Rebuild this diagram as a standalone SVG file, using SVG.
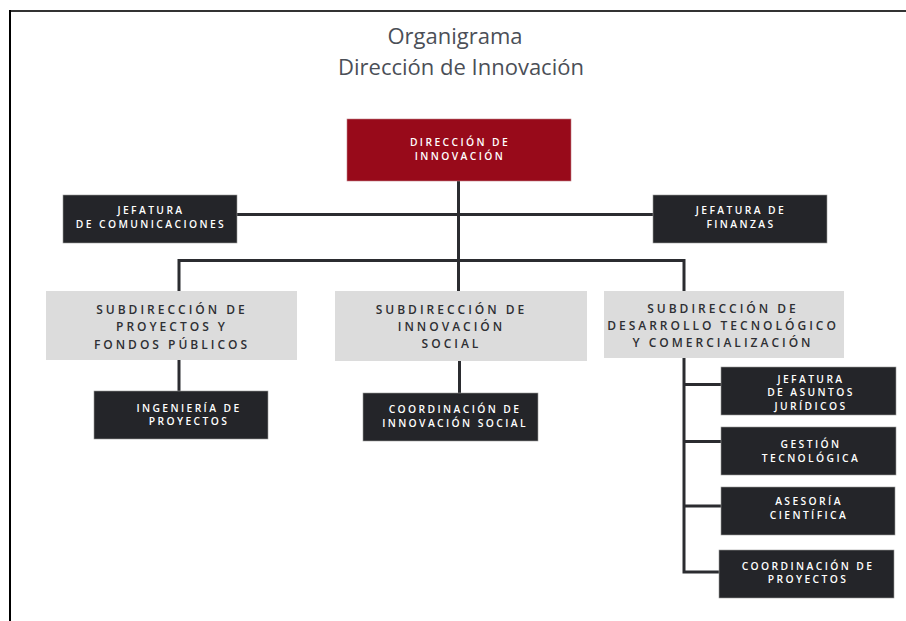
<svg xmlns="http://www.w3.org/2000/svg" width="906" height="621" viewBox="0 0 906 621">
<style>
.title{font-family:"Open Sans","Liberation Sans",sans-serif;font-size:22px;fill:#4b4f57;text-anchor:middle}
.dk{fill:#242529;stroke:#9a9a9a;stroke-width:0.6}
.rd{fill:#980a1a;stroke:#c08088;stroke-width:0.6}
.lt{fill:#dcdcdc}
.tw{font-family:"Open Sans","Liberation Sans",sans-serif;font-size:10.3px;font-weight:600;fill:#ffffff;text-anchor:middle;letter-spacing:2.4px}
.tg{font-family:"Open Sans","Liberation Sans",sans-serif;font-size:12px;font-weight:600;fill:#2e2f33;text-anchor:middle;letter-spacing:3px}
.ln{stroke:#2b2c30;stroke-width:3;fill:none}
</style>
<rect x="0" y="0" width="906" height="621" fill="#ffffff"/>
<g id="frame">
<line x1="10" y1="11" x2="906" y2="11" stroke="#333" stroke-width="2.2"/>
<line x1="10" y1="10" x2="10" y2="621" stroke="#000" stroke-width="2"/>
</g>
<g id="title">
<text class="title" x="455" y="44">Organigrama</text>
<text class="title" x="461" y="75">Dirección de Innovación</text>
</g>
<g id="connectors">
<line class="ln" x1="458.5" y1="181" x2="458.5" y2="291"/>
<line class="ln" x1="237" y1="214.5" x2="653" y2="214.5"/>
<polyline class="ln" points="179,291 179,260.5 684,260.5 684,291"/>
<line class="ln" x1="179" y1="360" x2="179" y2="391"/>
<line class="ln" x1="459.5" y1="361" x2="459.5" y2="393"/>
<polyline class="ln" points="684,358 684,572 720,572"/>
<line class="ln" x1="684" y1="384.5" x2="721" y2="384.5"/>
<line class="ln" x1="684" y1="441.5" x2="721" y2="441.5"/>
<line class="ln" x1="684" y1="506" x2="721" y2="506"/>
</g>
<g id="direccion">
<rect class="rd" x="347" y="119" width="224" height="62"/>
<text class="tw" x="460" y="146">DIRECCIÓN DE</text>
<text class="tw" x="460" y="159.5">INNOVACIÓN</text>
</g>
<g id="jef-comunicaciones">
<rect class="dk" x="63" y="195" width="174" height="48"/>
<text class="tw" x="151" y="213.5">JEFATURA</text>
<text class="tw" x="151" y="227.5">DE COMUNICACIONES</text>
</g>
<g id="jef-finanzas">
<rect class="dk" x="653" y="195" width="174" height="48"/>
<text class="tw" x="741" y="214">JEFATURA DE</text>
<text class="tw" x="741" y="228">FINANZAS</text>
</g>
<g id="sub-proyectos">
<rect class="lt" x="46" y="291" width="251" height="69"/>
<text class="tg" x="172" y="313.5">SUBDIRECCIÓN DE</text>
<text class="tg" x="172" y="331">PROYECTOS Y</text>
<text class="tg" x="172" y="348.5">FONDOS PÚBLICOS</text>
</g>
<g id="sub-innovacion-social">
<rect class="lt" x="335" y="291" width="252" height="70"/>
<text class="tg" x="451.5" y="313.5">SUBDIRECCIÓN DE</text>
<text class="tg" x="451.5" y="331">INNOVACIÓN</text>
<text class="tg" x="451.5" y="348">SOCIAL</text>
</g>
<g id="sub-desarrollo">
<rect class="lt" x="604" y="291" width="240" height="67"/>
<text class="tg" x="723" y="312.5">SUBDIRECCIÓN DE</text>
<text class="tg" x="723" y="330">DESARROLLO TECNOLÓGICO</text>
<text class="tg" x="723" y="347">Y COMERCIALIZACIÓN</text>
</g>
<g id="ingenieria">
<rect class="dk" x="94" y="391" width="174" height="48"/>
<text class="tw" x="189" y="411.5">INGENIERÍA DE</text>
<text class="tw" x="189" y="425">PROYECTOS</text>
</g>
<g id="coord-innovacion-social">
<rect class="dk" x="363" y="393" width="175" height="48"/>
<text class="tw" x="455" y="413">COORDINACIÓN DE</text>
<text class="tw" x="455" y="426.5">INNOVACIÓN SOCIAL</text>
</g>
<g id="jef-juridicos">
<rect class="dk" x="721" y="367" width="175" height="48"/>
<text class="tw" x="811" y="383">JEFATURA</text>
<text class="tw" x="811" y="396">DE ASUNTOS</text>
<text class="tw" x="811" y="409.5">JURÍDICOS</text>
</g>
<g id="gestion">
<rect class="dk" x="721" y="427" width="175" height="48"/>
<text class="tw" x="811" y="447.5">GESTIÓN</text>
<text class="tw" x="811" y="461.5">TECNOLÓGICA</text>
</g>
<g id="asesoria">
<rect class="dk" x="721" y="487" width="174" height="48"/>
<text class="tw" x="809" y="505">ASESORÍA</text>
<text class="tw" x="809" y="519">CIENTÍFICA</text>
</g>
<g id="coord-proyectos">
<rect class="dk" x="719" y="550" width="175" height="48"/>
<text class="tw" x="808" y="569.5">COORDINACIÓN DE</text>
<text class="tw" x="808" y="583">PROYECTOS</text>
</g>
</svg>
